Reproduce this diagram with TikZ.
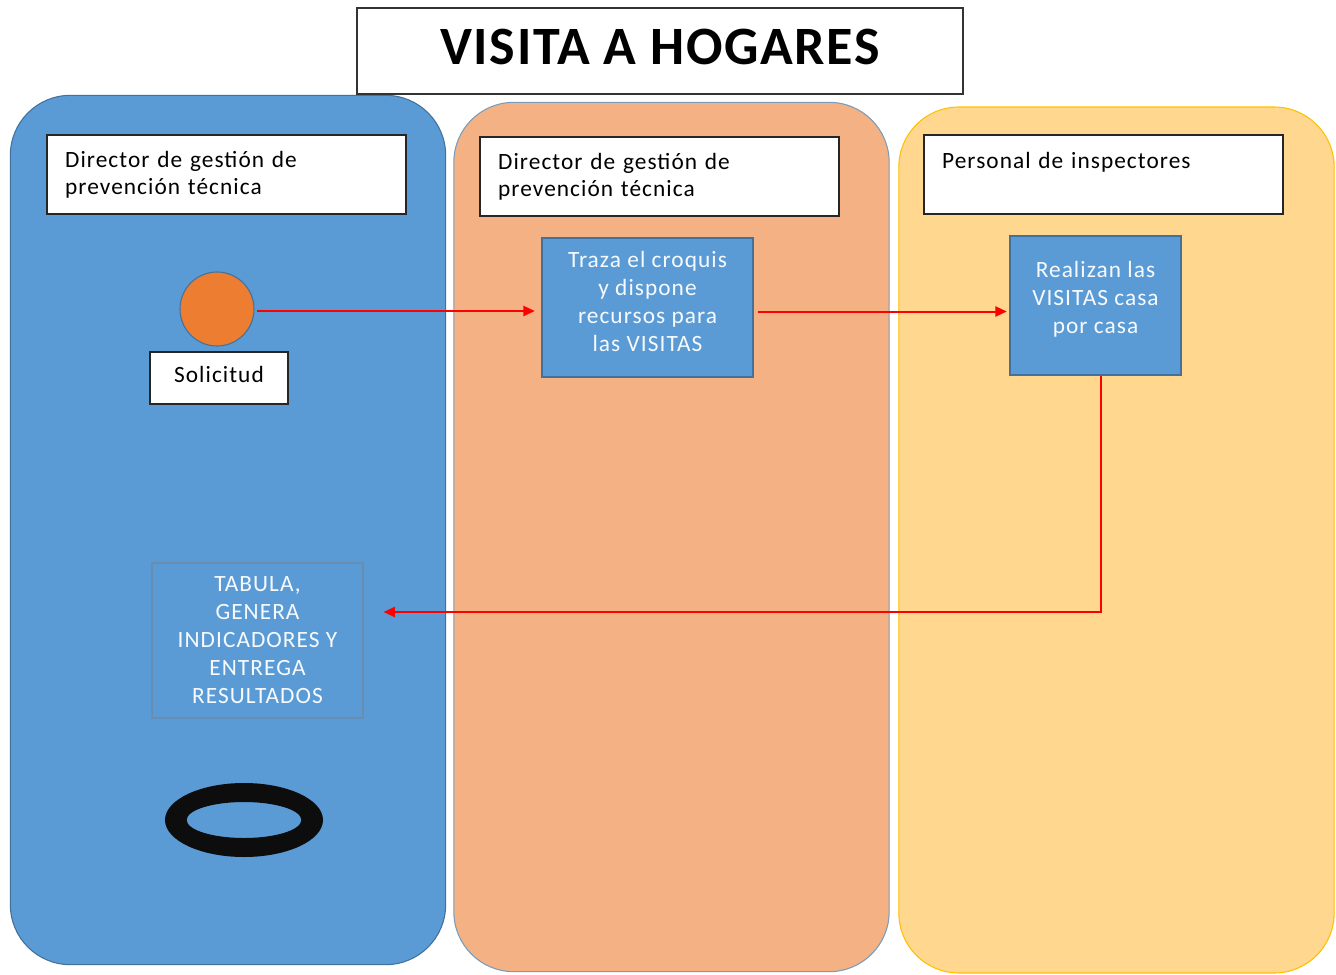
\documentclass[tikz,border=0pt]{standalone}
\usepackage{fontspec}
\setmainfont{Carlito}
\newfontfamily\lanefont[LetterSpace=4.5]{Carlito}
\newfontfamily\titlefont[LetterSpace=3]{Carlito}
\usetikzlibrary{arrows.meta,shapes.geometric}

\definecolor{laneblue}{HTML}{5B9BD5}
\definecolor{laneedge}{HTML}{41719C}
\definecolor{laneorange}{HTML}{F4B183}
\definecolor{laneyellow}{HTML}{FFD78E}
\definecolor{yellowedge}{HTML}{FFC000}
\definecolor{dotorange}{HTML}{ED7D31}
\definecolor{flowred}{HTML}{FF0000}

\begin{document}
\begin{tikzpicture}[x=0.75pt, y=-0.75pt,
                    lane/.style={rectangle, rounded corners=45pt, line width=0.8pt,
                                 minimum width=326.5pt, minimum height=652pt},
                    header/.style={rectangle, draw=black!85, fill=white, line width=1pt,
                                   minimum width=269.25pt, minimum height=59.25pt,
                                   inner xsep=13.5pt, text width=242pt, align=left,
                                   font=\lanefont\fontsize{17.5}{20.5}\selectfont},
                    task/.style={rectangle, draw=laneedge, fill=laneblue, line width=0.8pt,
                                 text=white!95!laneblue, align=center,
                                 font=\lanefont\fontsize{17.5}{21}\selectfont},
                    flow/.style={draw=flowred, line width=1.5pt,
                                 -{Triangle[length=8.5pt,width=7.5pt]}}]
    \useasboundingbox (0,0) rectangle (1336,975);

    \node[lane, draw=laneedge, fill=laneblue] (lane1) at (228,530) {};
    \node[lane, draw=laneedge!70, fill=laneorange] (lane2) at (671.5,537) {};
    \node[lane, draw=yellowedge, fill=laneyellow, minimum height=649.5pt] (lane3) at (1116.5,540) {};

    \node[rectangle, draw=black!80, fill=white, line width=1pt,
          minimum width=454.5pt, minimum height=64.5pt,
          font=\titlefont\fontsize{40.5}{44}\selectfont\bfseries] (title) at (660,51)
        {\raisebox{7pt}{VISITA A HOGARES}};

    \node[header] (hdr1) at (226.5,174.5) {Director de gestión de\\prevención técnica};
    \node[header] (hdr2) at (659.5,176.5) {Director de gestión de\\prevención técnica};
    \node[header] (hdr3) at (1103.5,174.5) {Personal de inspectores\\\mbox{}};

    \node[circle, draw=laneedge, fill=dotorange, line width=0.8pt,
          minimum size=55.5pt, inner sep=0pt] (dot) at (217,309) {};
    \node[rectangle, draw=black!85, fill=white, line width=1pt,
          minimum width=103.5pt, minimum height=39pt,
          font=\lanefont\fontsize{17.5}{20}\selectfont] (solicitud) at (219,378)
        {\raisebox{5pt}{Solicitud}\hspace{11pt}};

    \node[task, minimum width=158.25pt, minimum height=104.25pt] (traza) at (647.5,307.5)
        {Traza el croquis\\y dispone\\recursos para\\las VISITAS\\[-12pt]\mbox{}};
    \node[task, minimum width=128.25pt, minimum height=104.25pt] (realizan) at (1095.5,305.5)
        {Realizan las\\VISITAS casa\\por casa\\[-9pt]\mbox{}};
    \node[task, draw=laneedge!80, minimum width=158.25pt, minimum height=116.25pt] (tabula) at (257.5,640.5)
        {TABULA,\\GENERA\\INDICADORES Y\\ENTREGA\\RESULTADOS};

    \coordinate (fin) at (244,820);
    \fill[black!95, even odd rule] (fin) ellipse [x radius=59.25pt, y radius=27.75pt]
                                   (fin) ellipse [x radius=43pt, y radius=13.5pt];

    \coordinate (bend) at (1101,612);

    \draw[flow, shorten <=2pt, shorten >=5pt] ([yshift=-1.5pt]dot.east) -- ([yshift=-1.5pt]dot.east -| traza.west);
    \draw[flow, shorten <=3pt, shorten >=2pt] ([yshift=-3pt]traza.east) -- ([yshift=-3pt]traza.east -| realizan.west);
    \draw[flow, shorten >=15pt] (bend |- realizan.south) -- (bend) -- (tabula.east |- bend);
\end{tikzpicture}
\end{document}
